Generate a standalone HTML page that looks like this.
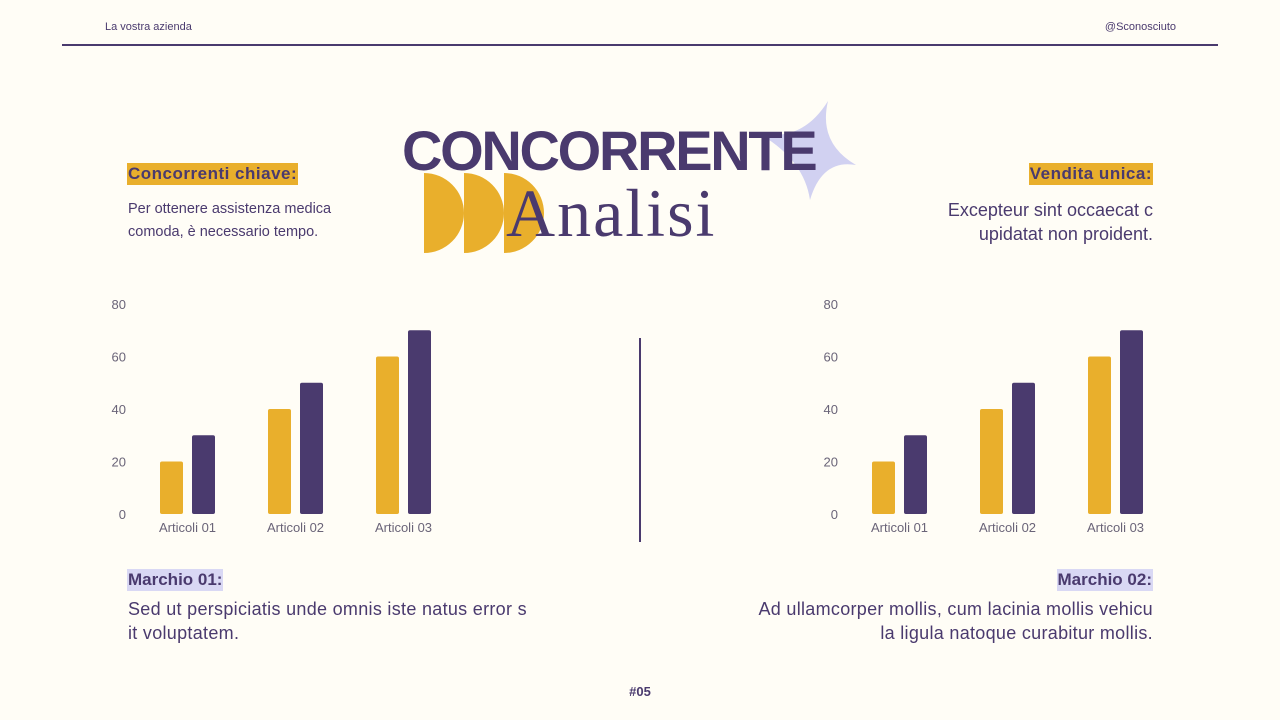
<!DOCTYPE html>
<html><head><meta charset="utf-8"><style>
body{margin:0;width:1280px;height:720px;background:#fffdf6;position:relative;overflow:hidden;font-family:"Liberation Sans",sans-serif;color:#4a3a6e}
.abs{position:absolute}
.hl{background:#e9af2c;font-weight:bold;font-size:17px;padding:1px 1px;color:#4a3a6e;letter-spacing:0.5px}
.hlp{background:#d9d8f4;font-weight:bold;font-size:17px;padding:1px 1px;color:#4a3a6e}
.p{font-size:14.5px;line-height:23px;color:#4a3a6e}
.p2{font-size:18px;line-height:24px;color:#4a3a6e}
</style></head><body>
<div class="abs" style="left:105px;top:21px;font-size:11px">La vostra azienda</div>
<div class="abs" style="right:104px;top:21px;font-size:11px">@Sconosciuto</div>
<div class="abs" style="left:62px;top:44px;width:1156px;height:2px;background:#4a3a6e"></div>

<svg class="abs" style="left:740px;top:95px" width="130" height="110"><path d="M88 6 Q78 48 116 70 Q82 64 70 105 Q64 64 18 38 Q62 48 88 6Z" fill="#c9c9f0" opacity="0.85"/></svg>
<svg class="abs" style="left:424px;top:173px" width="130" height="82">
<path d="M0 0 A40 40 0 0 1 0 80Z" fill="#e9af2c"/><path d="M40 0 A40 40 0 0 1 40 80Z" fill="#e9af2c"/><path d="M80 0 A40 40 0 0 1 80 80Z" fill="#e9af2c"/></svg>
<div class="abs" style="left:402px;top:118px;font-size:56px;font-weight:bold;letter-spacing:-2.3px;color:#4a3a6e">CONCORRENTE</div>
<div class="abs" style="left:506px;top:174px;font-size:68px;letter-spacing:2px;font-family:'Liberation Serif',serif;color:#4a3a6e">Analisi</div>

<div class="abs hl" style="left:127px;top:163px">Concorrenti chiave:</div>
<div class="abs p" style="left:128px;top:198px">Per ottenere assistenza medica<br>comoda, è necessario tempo.</div>
<div class="abs hl" style="right:127px;top:163px">Vendita unica:</div>
<div class="abs p2" style="right:127px;top:198px;text-align:right">Excepteur sint occaecat c<br>upidatat non proident.</div>

<div class="abs" style="left:639px;top:338px;width:2px;height:204px;background:#4a3a6e"></div>

<svg class="abs" id="charts" style="left:0;top:0" width="1280" height="720"></svg>

<div class="abs hlp" style="left:127px;top:569px">Marchio 01:</div>
<div class="abs p2" style="left:128px;top:597px;letter-spacing:0.3px">Sed ut perspiciatis unde omnis iste natus error s<br>it voluptatem.</div>
<div class="abs hlp" style="right:127px;top:569px">Marchio 02:</div>
<div class="abs p2" style="right:127px;top:597px;text-align:right;letter-spacing:0.3px">Ad ullamcorper mollis, cum lacinia mollis vehicu<br>la ligula natoque curabitur mollis.</div>
<div class="abs" style="left:0;width:1280px;text-align:center;top:684px;font-size:13px;font-weight:bold">#05</div>

<script>
const categories=["Articoli 01","Articoli 02","Articoli 03"];
const seriesA=[20,40,60];
const seriesB=[30,50,70];
const ticks=[0,20,40,60,80];
const svg=document.getElementById('charts');
const NS="http://www.w3.org/2000/svg";
function y(v){return 514-v*2.625;}
function drawChart(ox,name){
  ticks.forEach(t=>{
    const tx=document.createElementNS(NS,'text');
    tx.setAttribute('x',ox+126);tx.setAttribute('y',y(t)+5);
    tx.setAttribute('text-anchor','end');tx.setAttribute('font-size','13');tx.setAttribute('fill','#6a6478');
    tx.setAttribute('font-family','Liberation Sans, sans-serif');tx.textContent=t;
    
    
    svg.appendChild(tx);
  });
  categories.forEach((c,i)=>{
    const gx=ox+160+i*108;
    [[seriesA[i],'#e9af2c',0],[seriesB[i],'#4a3a6e',32]].forEach(([v,col,dx],k)=>{
      const r=document.createElementNS(NS,'rect');
      r.setAttribute('x',gx+dx);r.setAttribute('y',y(v));r.setAttribute('width',23);
      r.setAttribute('height',514-y(v));r.setAttribute('rx',2);r.setAttribute('fill',col);
      
      
      svg.appendChild(r);
    });
    const l=document.createElementNS(NS,'text');
    l.setAttribute('x',gx+27.5);l.setAttribute('y',532);l.setAttribute('text-anchor','middle');
    l.setAttribute('font-size','13');l.setAttribute('fill','#6a6478');
    l.setAttribute('font-family','Liberation Sans, sans-serif');l.textContent=c;
    
    
    svg.appendChild(l);
  });
}
drawChart(0,'left-chart');
drawChart(712,'right-chart');
</script>
</body></html>
